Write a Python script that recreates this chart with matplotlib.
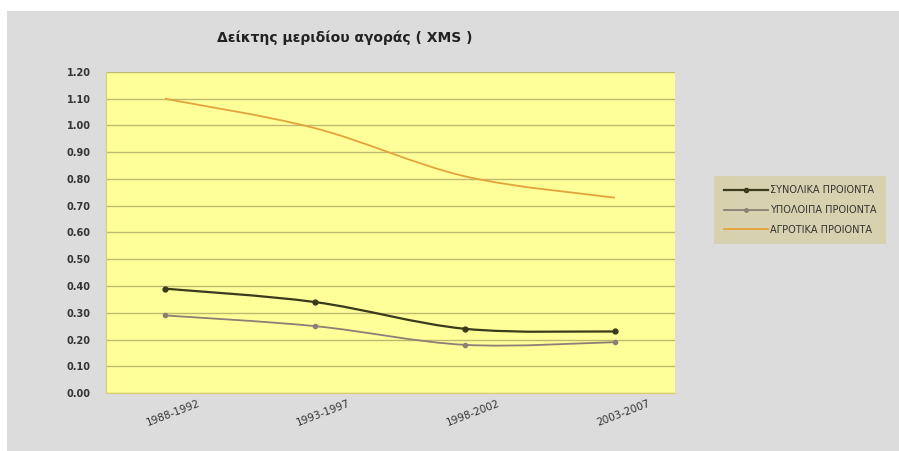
import numpy as np
import matplotlib
matplotlib.use("Agg")
import matplotlib.pyplot as plt
import matplotlib.transforms as mtrans
from matplotlib.path import Path
from matplotlib.patches import PathPatch, Rectangle
from matplotlib.lines import Line2D

# -----------------------
# Data
# -----------------------
periods = ["1988-1992", "1993-1997", "1998-2002", "2003-2007"]
total_products = [0.39, 0.34, 0.24, 0.23]
other_products = [0.29, 0.25, 0.18, 0.19]
agri_products = [1.10, 0.99, 0.81, 0.73]
series_labels = ["ΣΥΝΟΛΙΚΑ ΠΡΟΙΟΝΤΑ", "ΥΠΟΛΟΙΠΑ ΠΡΟΙΟΝΤΑ", "ΑΓΡΟΤΙΚΑ ΠΡΟΙΟΝΤΑ"]
y_ticks = [0.0, 0.1, 0.2, 0.3, 0.4, 0.5, 0.6, 0.7, 0.8, 0.9, 1.0, 1.1, 1.2]
title = "Δείκτης μεριδίου αγοράς ( XMS )"

# -----------------------
# Style & Colors
# -----------------------
BG = "#dcdcdc"
PLOT_BG = "#ffff99"
GRID = "#bfb86e"
C_TOTAL = "#3a3a1c"
C_OTHER = "#8c7f76"
C_AGRI = "#e3a33c"
LEGEND_BG = "#d8cfa4"
TEXT = "#333333"

plt.rcParams["font.family"] = ["DejaVu Sans"]


def smooth_path(xs, ys):
    # Excel-style smoothed line: cubic Bezier through the points
    pts = np.column_stack([xs, ys]).astype(float)
    n = len(pts)
    verts = [pts[0]]
    codes = [Path.MOVETO]
    for i in range(n - 1):
        p0 = pts[max(i - 1, 0)]
        p1 = pts[i]
        p2 = pts[i + 1]
        p3 = pts[min(i + 2, n - 1)]
        c1 = p1 + (p2 - p0) / 6.0
        c2 = p2 - (p3 - p1) / 6.0
        verts += [c1, c2, p2]
        codes += [Path.CURVE4] * 3
    return Path(verts, codes)


def main():
    fig = plt.figure(figsize=(8.99, 4.51), dpi=100)
    fig.patch.set_facecolor("white")
    # grey chart area behind everything
    fig.patches.append(Rectangle((7 / 899, 0), 1 - 7 / 899, 1 - 11 / 451,
                                 transform=fig.transFigure, facecolor=BG,
                                 edgecolor="none", zorder=-10))

    ax = fig.add_axes([106 / 899, 1 - 393 / 451, 569 / 899, 321 / 451])
    ax.set_facecolor(PLOT_BG)
    x = np.arange(len(periods))

    for vals, col, lw, ms in [(total_products, C_TOTAL, 1.6, 3.5),
                              (other_products, C_OTHER, 1.3, 3.0),
                              (agri_products, C_AGRI, 1.3, 0)]:
        ax.add_patch(PathPatch(smooth_path(x, vals), facecolor="none",
                               edgecolor=col, lw=lw, zorder=3))
        if ms:
            ax.plot(x, vals, "o", color=col, ms=ms, zorder=4)

    ax.set_xlim(-0.393, 3.4)
    ax.set_ylim(0, 1.2)
    ax.set_yticks(y_ticks)
    ax.set_yticklabels([f"{v:.2f}" for v in y_ticks], fontsize=7,
                       color=TEXT, fontweight="bold")
    ax.yaxis.grid(True, color=GRID, lw=1)
    ax.set_axisbelow(True)
    ax.tick_params(axis="y", length=0, pad=11)

    ax.set_xticks(x)
    ax.set_xticklabels(periods, rotation=21, fontsize=7.5, color=TEXT,
                       ha="right", rotation_mode="anchor")
    ax.tick_params(axis="x", length=0, pad=4)
    # shift labels so they sit centred under the points
    offset = mtrans.ScaledTranslation(0.33, 0, fig.dpi_scale_trans)
    for lbl in ax.get_xticklabels():
        lbl.set_transform(lbl.get_transform() + offset)

    for side in ["top", "right"]:
        ax.spines[side].set_visible(False)
    ax.spines["left"].set_color("#d8d070")
    ax.spines["bottom"].set_color("#d8d070")

    fig.text(345 / 899, 1 - 38 / 451, title, ha="center", va="center",
             fontsize=10, fontweight="bold", color="#222222")

    handles = [
        Line2D([], [], color=C_TOTAL, lw=1.6, marker="o", ms=3),
        Line2D([], [], color=C_OTHER, lw=1.3, marker="o", ms=2.5),
        Line2D([], [], color=C_AGRI, lw=1.3),
    ]
    leg = fig.legend(handles, series_labels, loc="center",
                     bbox_to_anchor=(800 / 899, 1 - 210 / 451),
                     fontsize=7, frameon=True, fancybox=False,
                     handlelength=4.5, handletextpad=0.2, labelspacing=1.0,
                     borderpad=1.0)
    leg.get_frame().set_facecolor(LEGEND_BG)
    leg.get_frame().set_edgecolor("none")
    for t in leg.get_texts():
        t.set_color(TEXT)

    fig.savefig("out.png", dpi=100, facecolor=fig.get_facecolor())


if __name__ == "__main__":
    main()
